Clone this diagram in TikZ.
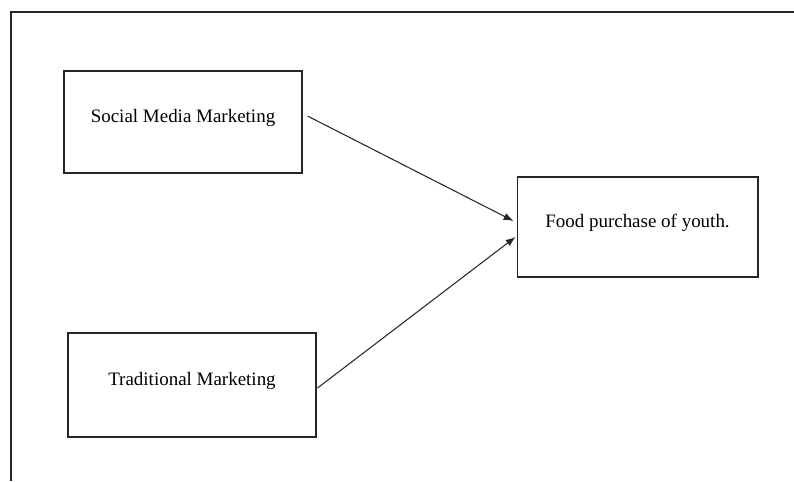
\documentclass[tikz,border=0pt]{standalone}
\usepackage{fontspec}
\setmainfont{Liberation Serif}
\usetikzlibrary{arrows.meta}
\tikzset{>={Latex[length=5.6pt, width=4.2pt]}}
\tikzset{box/.style={draw=black!85, line width=0.6pt, text height=0.7em, text depth=0.7em, font=\fontsize{10.8}{13}\selectfont}}

\begin{document}
\begin{tikzpicture}[x=0.02cm, y=-0.02cm]
    \useasboundingbox (0,0) rectangle (794,481);
    \draw[black!85, line width=0.6pt](11,481)--(11,12)--(794,12);
    \node[box, minimum width=4.76cm, minimum height=2.04cm](smm)at(183,122){Social Media Marketing};
    \node[box, minimum width=4.96cm, minimum height=2.08cm](trad)at(192,385){Traditional Marketing};
    \node[box, minimum width=4.82cm, minimum height=2cm](food)at(637.5,227){Food purchase of youth.};
    \draw[->, black!85, line width=0.6pt]([shift={(5,-6)}]smm.east)--([shift={(-3,-6)}]food.west);
    \draw[->, black!85, line width=0.6pt]([shift={(1,3)}]trad.east)--([shift={(-1,10)}]food.west);
\end{tikzpicture}
\end{document}
